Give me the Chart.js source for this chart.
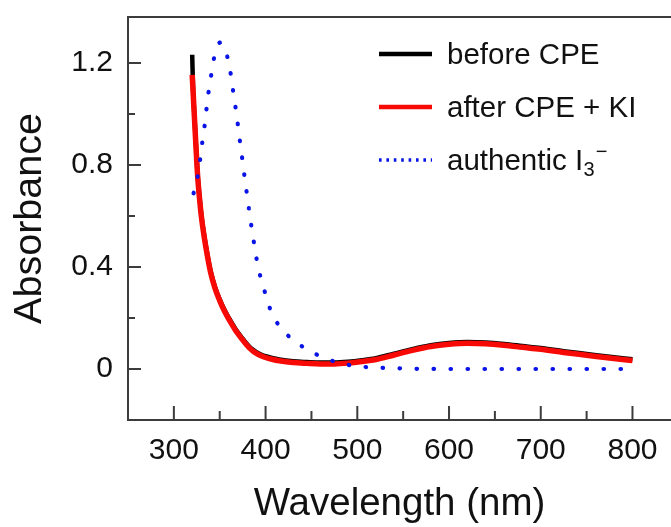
<!DOCTYPE html>
<html>
<head>
<meta charset="utf-8">
<script src="https://cdn.jsdelivr.net/npm/chart.js@4"></script>
<style>
  body { margin: 0; background: #fff; }
  canvas { display: block; }
</style>
</head>
<body>
<canvas id="absChart" width="671" height="527"></canvas>
<script>
// spectra
var wavelengths = [320, 321, 322, 324, 326, 328, 330, 333, 336, 340, 345, 350, 355, 360, 367, 375, 379, 382, 386, 390,
  395, 400, 407, 415, 430, 445, 460, 475, 490, 505, 520, 540, 560, 580, 600, 620, 640, 660, 680, 700, 725, 750, 775, 800];
var afterCPE = [1.153, 1.085, 1.015, 0.88, 0.752, 0.668, 0.598, 0.52, 0.455, 0.38, 0.315, 0.268, 0.228, 0.195, 0.153, 0.114, 0.096, 0.084, 0.071, 0.061,
  0.052, 0.045, 0.038, 0.032, 0.025, 0.022, 0.020, 0.020, 0.023, 0.029, 0.037, 0.055, 0.073, 0.088, 0.097, 0.101, 0.099, 0.093, 0.085, 0.077,
  0.065, 0.054, 0.043, 0.033];
var beforeCPE = [1.232, 1.09, 1.02, 0.885, 0.757, 0.673, 0.603, 0.525, 0.46, 0.385, 0.32, 0.273, 0.233, 0.2, 0.158, 0.119, 0.101, 0.089, 0.076, 0.066,
  0.057, 0.05, 0.043, 0.037, 0.03, 0.027, 0.025, 0.025, 0.028, 0.034, 0.042, 0.06, 0.078, 0.093, 0.102, 0.106, 0.104, 0.098, 0.09, 0.082,
  0.07, 0.059, 0.048, 0.038];

var i3Wavelengths = [321.5, 326, 328.7, 331, 333.5, 335.6, 337.8, 340.7, 343.6, 347, 350.5, 354.5, 358.5, 362, 364.7, 367.3, 369.8, 372, 374.5,
  376.8, 379.3, 381.8, 384.3, 387.2, 390.2, 394, 399.2, 405, 414.8, 431.6, 450, 468, 486, 505, 523, 542, 560, 600, 700, 800];
var i3Values = [0.689, 0.757, 0.823, 0.889, 0.953, 1.02, 1.085, 1.152, 1.216, 1.262, 1.28, 1.262, 1.221, 1.156, 1.087, 1.024, 0.957, 0.894, 0.826,
  0.761, 0.695, 0.63, 0.565, 0.498, 0.431, 0.367, 0.302, 0.235, 0.169, 0.11, 0.067, 0.038, 0.019, 0.009, 0.005, 0.003, 0.001, 0, 0, 0];

var xLabels = [300, 400, 500, 600, 700, 800];
var xMinorTicks = [350, 450, 550, 650, 750];
var yLabels = [0, 0.4, 0.8, 1.2];
var yMinorTicks = [0.2, 0.6, 1.0];

var FONT = '"Liberation Sans", Arial, Helvetica, sans-serif';
var AXIS = '#3c3c3c';

function pts(xs, ys) {
  return xs.map(function (x, i) { return { x: x, y: ys[i] }; });
}

// box lines + inward tick marks
var frame = {
  id: 'frame',
  beforeDatasetsDraw: function (chart) {
    var c = chart.ctx, a = chart.chartArea, sx = chart.scales.x, sy = chart.scales.y;
    c.save();
    c.strokeStyle = AXIS;
    c.lineWidth = 2;
    c.beginPath();
    c.moveTo(a.right, a.top); c.lineTo(a.left, a.top);
    c.lineTo(a.left, a.bottom); c.lineTo(a.right, a.bottom);
    c.stroke();
    c.beginPath();
    xLabels.forEach(function (v) { var p = sx.getPixelForValue(v); c.moveTo(p, a.bottom); c.lineTo(p, a.bottom - 14); });
    xMinorTicks.forEach(function (v) { var p = sx.getPixelForValue(v); c.moveTo(p, a.bottom); c.lineTo(p, a.bottom - 9); });
    yLabels.forEach(function (v) { var p = sy.getPixelForValue(v); c.moveTo(a.left, p); c.lineTo(a.left + 13, p); });
    yMinorTicks.forEach(function (v) { var p = sy.getPixelForValue(v); c.moveTo(a.left, p); c.lineTo(a.left + 7, p); });
    c.stroke();
    c.restore();
  }
};

// legend inside the plot, with I3- written with sub/superscript
var insideLegend = {
  id: 'insideLegend',
  afterDraw: function (chart) {
    var c = chart.ctx;
    var sets = chart.data.datasets;
    var x0 = 379, x1 = 432, tx = 447;
    var rows = [54, 107, 160];
    c.save();
    sets.forEach(function (ds, i) {
      var y = rows[i];
      c.beginPath();
      c.strokeStyle = ds.borderColor;
      if (ds.borderDash) {
        c.setLineDash([2.6, 4.8]);
        c.lineWidth = 3.5;
      } else {
        c.setLineDash([]);
        c.lineWidth = 4.5;
      }
      c.lineCap = 'butt';
      c.moveTo(x0, y); c.lineTo(x1, y);
      c.stroke();
      c.setLineDash([]);
      c.fillStyle = '#111';
      c.font = '29.5px ' + FONT;
      c.textBaseline = 'alphabetic';
      c.textAlign = 'left';
      var base = y + 10;
      if (i < 2) {
        c.fillText(ds.label, tx, base);
      } else {
        var main = 'authentic I';
        c.fillText(main, tx, base);
        var w = c.measureText(main).width;
        c.font = '20px ' + FONT;
        c.fillText('3', tx + w + 0.5, base + 6);
        var w3 = c.measureText('3').width;
        c.fillText('\u2212', tx + w + w3 + 1.5, base - 12);
      }
    });
    c.restore();
  }
};

var ctx = document.getElementById('absChart').getContext('2d');
var absChart = new Chart(ctx, {
  type: 'line',
  data: {
    datasets: [{
      label: 'before CPE',
      data: pts(wavelengths, beforeCPE),
      borderColor: '#000000',
      borderWidth: 4.5,
      pointRadius: 0,
      cubicInterpolationMode: 'monotone',
      order: 3
    }, {
      label: 'after CPE + KI',
      data: pts(wavelengths, afterCPE),
      borderColor: '#f70a05',
      borderWidth: 5.5,
      pointRadius: 0,
      cubicInterpolationMode: 'monotone',
      order: 2
    }, {
      label: 'authentic I3-',
      data: pts(i3Wavelengths, i3Values),
      borderColor: '#0a14e6',
      borderWidth: 4.2,
      borderDash: [0.5, 16.5],
      borderCapStyle: 'round',
      pointRadius: 0,
      cubicInterpolationMode: 'monotone',
      order: 1
    }]
  },
  options: {
    responsive: false,
    animation: false,
    layout: { padding: { top: 17, right: 0, left: 0, bottom: 0 } },
    plugins: { legend: { display: false }, tooltip: { enabled: false } },
    scales: {
      x: {
        type: 'linear',
        min: 250,
        max: 842,
        afterFit: function (s) { s.height = 107; s.paddingLeft = 0; s.paddingRight = 0; },
        afterBuildTicks: function (s) { s.ticks = xLabels.map(function (v) { return { value: v }; }); },
        grid: { display: false, drawTicks: false },
        border: { display: false },
        ticks: { color: '#111', font: { family: FONT, size: 30 }, padding: 13, maxRotation: 0, autoSkip: false },
        title: { display: true, text: 'Wavelength (nm)', color: '#111', font: { family: FONT, size: 38.5 }, padding: { top: 0, bottom: 0 } }
      },
      y: {
        min: -0.2,
        max: 1.38,
        afterFit: function (s) { s.width = 128; s.paddingTop = 0; s.paddingBottom = 0; },
        afterBuildTicks: function (s) { s.ticks = yLabels.map(function (v) { return { value: v }; }); },
        grid: { display: false, drawTicks: false },
        border: { display: false },
        ticks: {
          color: '#111', font: { family: FONT, size: 30 }, padding: 15, autoSkip: false,
          callback: function (v) { return v === 0 ? '0' : v.toFixed(1); }
        },
        title: { display: true, text: 'Absorbance', color: '#111', font: { family: FONT, size: 39.5 }, padding: { top: 6, bottom: 0 } }
      }
    }
  },
  plugins: [frame, insideLegend]
});
</script>
</body>
</html>
